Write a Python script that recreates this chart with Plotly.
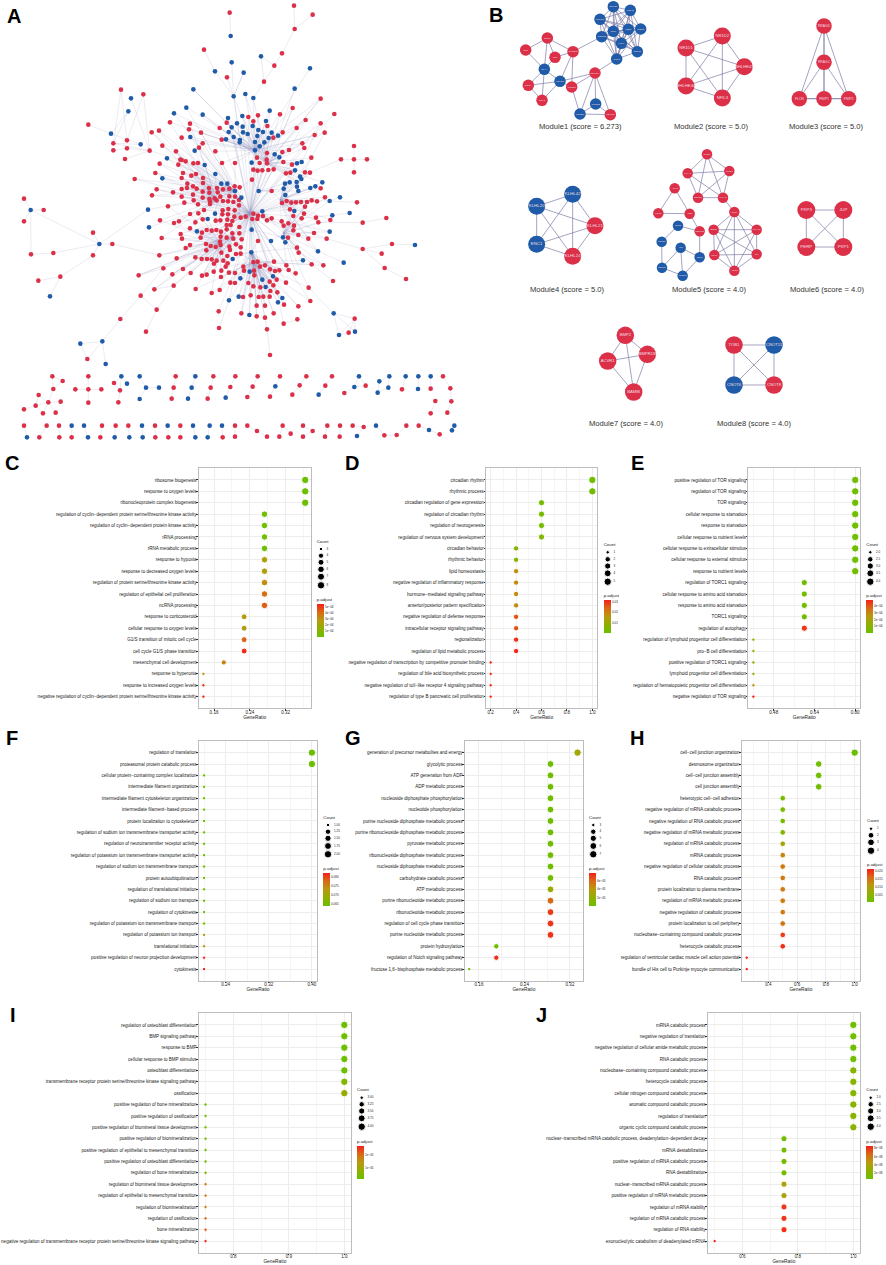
'''
Network panels (A, B) and GO enrichment dot plots (C to J) as one figure
'''
from itertools import combinations
import plotly.graph_objects as go

WIDTH = 886
HEIGHT = 1265
RED = '#DC3049'
BLUE = '#1F5BA8'
FONT = 'Liberation Sans'
M = '\u2212'

# Panel A, values in a 1440 x 1350 frame
A_CORE_RED = [
    (745, 351), (760, 364), (774, 346), (802, 378), (680, 368), (659, 384), (840, 343), (848, 397),
    (820, 413), (665, 419), (603, 398), (570, 371), (567, 388), (510, 367), (477, 392), (455, 397),
    (545, 413), (608, 430), (597, 443), (487, 437), (528, 454), (646, 454), (479, 491), (541, 479),
    (557, 484), (535, 494), (580, 490), (594, 489), (666, 489), (705, 489), (771, 473), (801, 459),
    (779, 489), (800, 479), (801, 490), (850, 486), (847, 456), (867, 450), (907, 430), (913, 444),
    (944, 405), (974, 398), (962, 370), (890, 384), (917, 360), (878, 324), (962, 296), (934, 473),
    (876, 494), (760, 509), (773, 512), (787, 511), (805, 510), (821, 508), (858, 520), (871, 518),
    (915, 517), (930, 518), (466, 519), (549, 519), (574, 527), (588, 522), (545, 534), (609, 534),
    (756, 539), (404, 537), (562, 551), (561, 564), (545, 567), (579, 559), (609, 549), (590, 566),
    (627, 564), (651, 564), (669, 568), (688, 566), (704, 559), (719, 562), (470, 568), (519, 577),
    (456, 586), (579, 584), (608, 575), (628, 578), (653, 577), (815, 573), (962, 565), (545, 590),
    (581, 601), (608, 593), (628, 597), (644, 595), (661, 590), (688, 589), (705, 590), (975, 592),
    (553, 608), (594, 613), (630, 604), (650, 601), (669, 603), (684, 604), (700, 606), (717, 600),
    (846, 609), (860, 603), (874, 608), (888, 607), (903, 606), (921, 606), (935, 601), (951, 604),
    (504, 619), (630, 612), (612, 630), (668, 631), (685, 627), (704, 631), (717, 616), (915, 620),
    (870, 628), (570, 642), (595, 640), (667, 643), (684, 643), (703, 650), (722, 653), (737, 650),
    (760, 641), (774, 647), (789, 648), (912, 641), (880, 648), (905, 655), (948, 653), (815, 655),
    (801, 661), (757, 657), (772, 657), (480, 661), (522, 669), (537, 664), (586, 667), (608, 658),
    (647, 662), (661, 661), (682, 659), (697, 663), (845, 664), (865, 670), (851, 677), (955, 667),
    (991, 660), (680, 675), (692, 675), (570, 685), (620, 690), (606, 698), (635, 692), (649, 690),
    (663, 695), (680, 688), (718, 681), (882, 677), (880, 691), (542, 702), (546, 716), (485, 714),
    (602, 713), (662, 710), (680, 713), (697, 700), (718, 700), (700, 716), (725, 718), (774, 723),
    (864, 713), (895, 705), (925, 716), (942, 699), (980, 716), (618, 732), (632, 738), (647, 741),
    (660, 725), (662, 735), (570, 735), (557, 744), (619, 751), (688, 740), (708, 733), (722, 742),
    (690, 750), (664, 758), (682, 768), (708, 762), (722, 761), (891, 743), (896, 758), (530, 775),
    (478, 766), (586, 772), (605, 777), (621, 777), (635, 778), (650, 782), (670, 782), (683, 790),
    (760, 786), (773, 785), (822, 785), (780, 800), (795, 796), (859, 796), (935, 793), (970, 796),
    (642, 791), (677, 800), (730, 800), (490, 805), (549, 807), (572, 819), (606, 827), (620, 824),
    (641, 815), (664, 812), (687, 818), (705, 819), (732, 812), (762, 812), (763, 826), (810, 808),
    (825, 813), (838, 811), (866, 810), (887, 820), (663, 831), (830, 839), (517, 823), (416, 826),
    (691, 848), (705, 849), (745, 849), (760, 859), (809, 845), (820, 856), (858, 848), (781, 862),
    (811, 873), (832, 877), (926, 863), (521, 857), (463, 868), (587, 867), (635, 879), (659, 870),
    (729, 891), (752, 886), (776, 891), (790, 890), (809, 890), (931, 903), (852, 914), (770, 917),
    (795, 917), (895, 919), (724, 940), (770, 949), (795, 953), (821, 940),
]
A_CORE_BLUE = [
    (684, 354), (727, 348), (711, 370), (695, 382), (728, 380), (686, 396), (729, 397), (743, 402),
    (758, 378), (775, 390), (789, 396), (798, 363), (815, 398), (834, 407), (806, 414), (772, 408),
    (765, 426), (793, 427), (779, 439), (765, 451), (719, 427), (701, 411), (678, 418), (824, 463),
    (838, 472), (736, 282), (760, 294), (701, 289), (580, 268), (559, 323), (522, 340), (608, 344),
    (809, 332), (571, 411), (584, 452), (501, 475), (614, 495), (646, 522), (487, 535), (755, 488),
    (891, 490), (905, 486), (885, 511), (904, 537), (890, 546), (869, 547), (855, 551), (851, 566),
    (856, 585), (895, 573), (931, 564), (946, 559), (967, 547), (989, 603), (664, 551), (682, 551),
    (705, 573), (776, 573), (724, 593), (787, 634), (645, 641), (623, 657), (755, 689), (591, 694),
    (813, 723), (849, 712), (856, 727), (754, 757), (698, 777), (749, 815), (721, 835), (787, 839),
    (819, 829), (797, 861), (716, 890), (687, 901), (847, 894), (834, 907), (748, 945), (909, 781),
    (954, 754), (989, 695), (883, 633),
]
A_HUBS = [
    (720, 640), (760, 641), (787, 634), (705, 573), (776, 573), (724, 593), (755, 689), (700, 710),
    (754, 757), (800, 490), (765, 451), (840, 600), (650, 600), (850, 700), (760, 786), (660, 730),
]
A_CENTRE = (750, 640)

# Chains of linked nodes outside the dense core: x, y, class
A_CHAINS = [
    [(689, 38, 'r'), (692, 108, 'b')],
    [(695, 187, 'b'), (701, 289, 'b')],
    [(612, 149, 'r'), (645, 214, 'b'), (701, 289, 'b')],
    [(681, 232, 'r'), (701, 289, 'b'), (731, 218, 'b'), (701, 289, 'b'), (720, 420, 'b')],
    [(882, 17, 'r'), (884, 87, 'r'), (846, 160, 'r'), (823, 197, 'r'), (783, 169, 'b'),
     (792, 245, 'r'), (760, 294, 'b')],
    [(823, 197, 'r'), (792, 245, 'r')],
    [(938, 44, 'r'), (884, 87, 'r')],
    [(930, 205, 'b'), (840, 343, 'r')],
    [(884, 266, 'b'), (834, 407, 'b')],
    [(962, 296, 'r'), (890, 384, 'r')],
    [(878, 324, 'r'), (848, 397, 'r')],
    [(1003, 342, 'r'), (944, 405, 'r')],
    [(917, 360, 'r'), (867, 450, 'r')],
    [(962, 370, 'r'), (905, 486, 'b')],
    [(974, 398, 'r'), (934, 473, 'r'), (891, 560, 'b')],
    [(363, 269, 'r'), (340, 430, 'r')],
    [(363, 269, 'r'), (381, 421, 'r')],
    [(393, 295, 'b'), (449, 452, 'r'), (430, 283, 'r'), (381, 421, 'r')],
    [(385, 334, 'b'), (340, 430, 'r')],
    [(385, 334, 'b'), (333, 401, 'b'), (265, 374, 'r')],
    [(333, 401, 'b'), (422, 433, 'b'), (340, 430, 'r'), (449, 452, 'r')],
    [(340, 451, 'r'), (381, 445, 'r'), (449, 452, 'r'), (375, 477, 'r')],
    [(449, 452, 'r'), (545, 480, 'r')],
    [(72, 596, 'r'), (92, 630, 'b'), (131, 630, 'r')],
    [(72, 664, 'r'), (92, 630, 'b'), (93, 763, 'r'), (160, 759, 'r'), (298, 732, 'b')],
    [(92, 630, 'b'), (298, 732, 'b'), (279, 698, 'r')],
    [(279, 766, 'r'), (298, 732, 'b'), (337, 732, 'r'), (478, 766, 'r')],
    [(298, 732, 'b'), (444, 629, 'b'), (553, 608, 'r')],
    [(115, 842, 'r'), (181, 830, 'r'), (279, 766, 'r')],
    [(150, 889, 'b'), (181, 830, 'r')],
    [(447, 682, 'b'), (570, 642, 'r')],
    [(241, 1031, 'b'), (307, 1024, 'b'), (361, 957, 'r'), (422, 887, 'r'), (490, 805, 'r')],
    [(262, 1077, 'r'), (241, 1031, 'b')],
    [(262, 1077, 'r'), (307, 1024, 'b'), (317, 1092, 'b')],
    [(438, 995, 'r'), (470, 929, 'r'), (521, 857, 'r')],
    [(422, 887, 'r'), (470, 929, 'r')],
    [(463, 868, 'r'), (521, 857, 'r')],
    [(416, 826, 'r'), (490, 805, 'r')],
    [(1062, 438, 'r'), (1062, 478, 'r'), (1062, 517, 'r')],
    [(900, 530, 'b'), (1023, 478, 'r'), (1062, 478, 'r'), (1101, 478, 'r')],
    [(1020, 592, 'b'), (989, 603, 'b'), (1071, 607, 'r')],
    [(1049, 639, 'b'), (997, 646, 'b'), (905, 655, 'r')],
    [(1159, 654, 'r'), (1088, 668, 'r'), (955, 667, 'r')],
    [(1245, 735, 'b'), (1176, 732, 'r'), (1088, 747, 'r'), (1145, 761, 'r')],
    [(1218, 837, 'r'), (1154, 804, 'r'), (1088, 747, 'r'), (980, 716, 'r')],
    [(1031, 788, 'b'), (954, 754, 'b'), (880, 691, 'r')],
    [(999, 843, 'r'), (935, 793, 'r'), (864, 713, 'r')],
    [(970, 796, 'r'), (896, 758, 'r')],
    [(1064, 956, 'r'), (1001, 940, 'b'), (1017, 1005, 'b'), (1046, 998, 'r'), (1064, 956, 'r')],
    [(1001, 940, 'b'), (1065, 995, 'b'), (1064, 956, 'r'), (1017, 1005, 'b')],
    [(1001, 940, 'b'), (926, 863, 'r')],
    [(810, 1065, 'r'), (801, 988, 'r'), (795, 953, 'r')],
    [(657, 984, 'r'), (687, 901, 'b')],
    [(656, 934, 'r'), (691, 848, 'r')],
    [(892, 958, 'r'), (851, 971, 'r'), (832, 877, 'r')],
    # Separate small components along the bottom
    [(157, 1129, 'r'), (188, 1143, 'r'), (160, 1167, 'r'), (157, 1129, 'r')],
    [(160, 1167, 'r'), (145, 1207, 'r'), (116, 1185, 'r'), (107, 1217, 'r'), (72, 1228, 'r')],
    [(182, 1205, 'r'), (145, 1207, 'r'), (129, 1240, 'r'), (107, 1217, 'r'), (145, 1207, 'r'),
     (167, 1238, 'r')],
    [(265, 1129, 'r'), (265, 1168, 'r'), (265, 1208, 'r')],
    [(226, 1168, 'r'), (265, 1168, 'r'), (304, 1168, 'r')],
    [(381, 1151, 'b'), (364, 1129, 'b'), (342, 1149, 'r'), (360, 1171, 'r'), (364, 1129, 'b')],
    [(360, 1171, 'r'), (355, 1207, 'r')],
    [(419, 1129, 'b'), (438, 1163, 'b'), (419, 1197, 'b')],
    [(438, 1163, 'b'), (477, 1163, 'b')],
    [(527, 1129, 'r'), (521, 1163, 'r'), (515, 1196, 'r')],
    [(586, 1129, 'b'), (575, 1163, 'b'), (564, 1196, 'b')],
    [(640, 1129, 'r'), (632, 1163, 'r'), (623, 1196, 'r')],
    [(706, 1129, 'r'), (691, 1161, 'r'), (677, 1193, 'b')],
    [(773, 1129, 'r'), (758, 1160, 'r'), (742, 1191, 'r')],
    [(840, 1129, 'r'), (826, 1159, 'b'), (810, 1190, 'r')],
    [(919, 1129, 'r'), (899, 1156, 'r'), (877, 1184, 'r')],
    [(996, 1129, 'r'), (976, 1157, 'r'), (956, 1184, 'b')],
    [(1033, 1179, 'r'), (1063, 1161, 'b'), (1077, 1129, 'b'), (1097, 1157, 'r'), (1063, 1161, 'b')],
    [(1138, 1144, 'b'), (1168, 1129, 'b'), (1165, 1163, 'b'), (1133, 1178, 'b'), (1138, 1144, 'b')],
    [(1217, 1129, 'b'), (1206, 1168, 'r')],
    [(1255, 1129, 'b'), (1254, 1167, 'b')],
    [(1292, 1129, 'b'), (1292, 1166, 'r')],
    [(1329, 1129, 'r'), (1351, 1165, 'r'), (1354, 1204, 'r'), (1342, 1238, 'r')],
    [(1306, 1203, 'r'), (1292, 1240, 'r')],
    [(72, 1277, 'r'), (81, 1312, 'b')],
    [(140, 1277, 'r'), (118, 1312, 'r')],
    [(177, 1277, 'r'), (178, 1312, 'r')],
    [(215, 1277, 'b'), (215, 1312, 'r')],
    [(252, 1277, 'b'), (264, 1312, 'b')],
    [(306, 1277, 'r'), (301, 1312, 'r')],
    [(347, 1277, 'r'), (344, 1312, 'b')],
    [(385, 1277, 'r'), (388, 1312, 'b')],
    [(426, 1277, 'b'), (428, 1312, 'b')],
    [(465, 1277, 'r'), (466, 1312, 'r')],
    [(503, 1277, 'b'), (505, 1312, 'r')],
    [(541, 1277, 'r'), (541, 1312, 'r')],
    [(579, 1277, 'b'), (586, 1312, 'b')],
    [(629, 1277, 'b'), (623, 1312, 'b')],
    [(666, 1277, 'b'), (668, 1312, 'r')],
    [(705, 1277, 'r'), (705, 1310, 'r')],
    [(742, 1277, 'r'), (771, 1293, 'r'), (801, 1310, 'r')],
    [(838, 1310, 'r'), (848, 1277, 'r'), (872, 1301, 'r')],
    [(909, 1277, 'r'), (938, 1293, 'r'), (909, 1310, 'r')],
    [(982, 1277, 'r'), (975, 1310, 'r')],
    [(1020, 1277, 'r'), (1019, 1310, 'r')],
    [(1058, 1277, 'r'), (1091, 1281, 'r'), (1071, 1308, 'b')],
    [(1128, 1277, 'b'), (1153, 1306, 'r'), (1190, 1305, 'r'), (1219, 1277, 'r')],
    [(1256, 1277, 'r'), (1287, 1290, 'b'), (1319, 1303, 'r')],
    [(1363, 1277, 'b'), (1356, 1291, 'b')],
]

# Panel B, values in a 1218 x 1320 frame
MODULES = [
    {'title': 'Module1 (score = 6.273)', 'at': (301, 379), 'size': 11.5, 'font': 2.4,
     'nodes': [(400, 20, 'SNX25', 'b'), (451, 31, 'UTP11', 'b'), (360, 58, 'UTP11L', 'b'),
               (482, 87, 'WDR3', 'b'), (400, 94, 'NIP7', 'b'), (445, 88, 'TBL3', 'b'),
               (365, 110, 'WDR12', 'b'), (424, 130, 'IMP4', 'b'), (472, 155, 'NOL11', 'b'),
               (410, 177, 'GNL3', 'b'), (202, 114, 'EGR1', 'r'), (137, 150, 'SP3', 'r'),
               (225, 172, 'JUN', 'r'), (279, 155, 'NFE2L2', 'r'), (193, 208, 'NFYA', 'b'),
               (240, 244, 'FOXO1', 'b'), (145, 256, 'RORA', 'r'), (186, 301, 'TBX3', 'r'),
               (275, 261, 'CCND1', 'r'), (345, 219, 'CDKN1A', 'r'), (347, 312, 'CCND2', 'b'),
               (300, 342, 'CCNE1', 'b'), (391, 344, 'CDKN3', 'r')],
     'cliques': [list(range(10))],
     'edges': [(13, 6), (9, 19), (10, 11), (10, 12), (10, 13), (11, 14), (12, 14), (12, 13),
               (13, 15), (10, 14), (14, 15), (14, 16), (14, 17), (16, 15), (16, 17), (17, 15),
               (15, 18), (15, 19), (18, 19), (18, 21), (19, 20), (19, 21), (19, 22), (20, 21),
               (21, 22), (20, 22), (13, 18)]},
    {'title': 'Module2 (score = 5.0)', 'at': (693, 379), 'size': 17, 'font': 4.2,
     'nodes': [(727, 108, 'NR1D2', 'r'), (618, 144, 'NR1D1', 'r'), (793, 200, 'BHLHE41', 'r'),
               (618, 258, 'BHLHE40', 'r'), (727, 294, 'NFIL3', 'r')],
     'cliques': [[0, 1, 2, 3, 4]], 'edges': []},
    {'title': 'Module3 (score = 5.0)', 'at': (1038, 379), 'size': 15.5, 'font': 3.4,
     'nodes': [(1032, 78, 'RRAGD', 'r'), (1032, 187, 'RRAGC', 'r'), (958, 296, 'FLCN', 'r'),
               (1032, 296, 'FNIP1', 'r'), (1106, 296, 'FNIP2', 'r')],
     'cliques': [[0, 1, 2, 3, 4]], 'edges': []},
    {'title': 'Module4 (score = 5.0)', 'at': (261, 867), 'size': 17, 'font': 4.4,
     'nodes': [(278, 583, 'KLHL42', 'b'), (170, 619, 'KLHL20', 'b'), (345, 677, 'KLHL21', 'r'),
               (170, 733, 'ENC1', 'b'), (278, 769, 'KLHL24', 'r')],
     'cliques': [[0, 1, 2, 3, 4]], 'edges': []},
    {'title': 'Module5 (score = 4.0)', 'at': (687, 867), 'size': 10.5, 'font': 2.2,
     'nodes': [(681, 463, 'PLOD1', 'r'), (623, 520, 'P4HA1', 'r'), (748, 513, 'PLOD2', 'r'),
               (654, 593, 'OGFOD', 'r'), (729, 593, 'P4HA2', 'r'), (584, 565, 'ARIH2', 'r'),
               (535, 640, 'UTRN', 'r'), (629, 641, 'ASB1', 'r'), (763, 636, 'ALDOA', 'r'),
               (701, 689, 'ENO2', 'r'), (830, 689, 'PGAM1', 'r'), (703, 765, 'PGK1', 'r'),
               (830, 763, 'GPI', 'r'), (763, 812, 'ALDOC', 'r'), (659, 694, 'HERPUD', 'r'),
               (594, 677, 'SMG5', 'b'), (545, 725, 'CDC25', 'b'), (546, 803, 'DSCC1', 'b'),
               (608, 827, 'CLSPN', 'b'), (602, 743, 'ATR', 'b'), (659, 772, 'CDC7', 'b')],
     'cliques': [[0, 1, 2, 3, 4], [5, 6, 7], [8, 9, 10, 11, 12, 13]],
     'edges': [(15, 14), (15, 16), (16, 17), (17, 19), (17, 18), (19, 18), (19, 20), (18, 20),
               (14, 20), (7, 14), (4, 8)]},
    {'title': 'Module6 (score = 4.0)', 'at': (1043, 867), 'size': 18, 'font': 4.4,
     'nodes': [(979, 630, 'PKP3', 'r'), (1090, 630, 'JUP', 'r'), (979, 741, 'PERP', 'r'),
               (1090, 741, 'PKP1', 'r')],
     'cliques': [[0, 1, 2, 3]], 'edges': []},
    {'title': 'Module7 (score = 4.0)', 'at': (439, 1270), 'size': 17.5, 'font': 4.2,
     'nodes': [(436, 1006, 'BMP2', 'r'), (502, 1063, 'BMPR1B', 'r'), (383, 1083, 'ACVR1', 'r'),
               (461, 1176, 'BAMBI', 'r')],
     'cliques': [[0, 1, 2, 3]], 'edges': []},
    {'title': 'Module8 (score = 4.0)', 'at': (822, 1270), 'size': 17.5, 'font': 4.2,
     'nodes': [(762, 1035, 'TOB1', 'r'), (882, 1035, 'CNOT11', 'b'), (762, 1155, 'CNOT6', 'b'),
               (882, 1155, 'CNOT8', 'r')],
     'cliques': [[0, 1, 2, 3]], 'edges': []},
]

# Panel C
C_TERMS = ['ribosome biogenesis', 'response to oxygen levels', 'ribonucleoprotein complex biogenesis',
           f'regulation of cyclin{M}dependent protein serine/threonine kinase activity',
           f'regulation of cyclin{M}dependent protein kinase activity', 'rRNA processing',
           'rRNA metabolic process', 'response to hypoxia', 'response to decreased oxygen levels',
           'regulation of protein serine/threonine kinase activity',
           'regulation of epithelial cell proliferation', 'ncRNA processing',
           'response to corticosteroid', 'cellular response to oxygen levels',
           'G1/S transition of mitotic cell cycle', 'cell cycle G1/S phase transition',
           'mesenchymal cell development', 'response to hyperoxia', 'response to increased oxygen levels',
           f'negative regulation of cyclin{M}dependent protein serine/threonine kinase activity']
C_COUNTS = [8, 8, 8, 6, 6, 6, 6, 6, 6, 6, 6, 6, 5, 5, 5, 5, 4, 3, 3, 3]
C_PADJ = [.1, .1, .15, .2, .2, .2, .2, 2.4, 2.4, 3.1, 3.9, 4.3, 2.6, 2.6, 4.2, 5.2, 3.3, 2.9, 5.0, 5.1]

# Panel D
D_TERMS = ['circadian rhythm', 'rhythmic process', 'circadian regulation of gene expression',
           'regulation of circadian rhythm', 'regulation of neurogenesis',
           'regulation of nervous system development', 'circadian behavior', 'rhythmic behavior',
           'lipid homeostasis', 'negative regulation of inflammatory response',
           f'hormone{M}mediated signaling pathway', 'anterior/posterior pattern specification',
           'negative regulation of defense response', 'intracellular receptor signaling pathway',
           'regionalization', 'regulation of lipid metabolic process',
           'negative regulation of transcription by competitive promoter binding',
           'regulation of bile acid biosynthetic process',
           f'negative regulation of toll{M}like receptor 4 signaling pathway',
           'regulation of type B pancreatic cell proliferation']
D_COUNTS = [5, 5, 3, 3, 3, 3, 2, 2, 2, 2, 2, 2, 2, 2, 2, 2, 1, 1, 1, 1]
D_PADJ = [.001, .001, .002, .002, .002, .005, .005, .006, .018, .018, .018, .018, .026, .026, .03, .031,
          .031, .031, .031, .031]

# Panel E
E_TERMS = ['positive regulation of TOR signaling', 'regulation of TOR signaling', 'TOR signaling',
           'cellular response to starvation', 'response to starvation',
           'cellular response to nutrient levels', 'cellular response to extracellular stimulus',
           'cellular response to external stimulus', 'response to nutrient levels',
           'regulation of TORC1 signaling', 'cellular response to amino acid starvation',
           'response to amino acid starvation', 'TORC1 signaling', 'regulation of autophagy',
           'regulation of lymphoid progenitor cell differentiation', f'pro{M}B cell differentiation',
           'positive regulation of TORC1 signaling', 'lymphoid progenitor cell differentiation',
           'regulation of hematopoietic progenitor cell differentiation',
           'negative regulation of TOR signaling']
E_COUNTS = [4, 4, 4, 4, 4, 4, 4, 4, 4, 3, 3, 3, 3, 3, 2, 2, 2, 2, 2, 2]
E_PADJ = [.1, .1, .1, .1, .1, .1, .1, .1, .2, .2, .2, .2, .2, 4.4, .9, .9, 1.4, 1.5, 2.7, 4.7]

# Panel F
F_TERMS = ['regulation of translation', 'proteasomal protein catabolic process',
           f'cellular protein{M}containing complex localization', 'intermediate filament organization',
           'intermediate filament cytoskeleton organization', f'intermediate filament{M}based process',
           'protein localization to cytoskeleton',
           'regulation of sodium ion transmembrane transporter activity',
           'regulation of neurotransmitter receptor activity',
           'regulation of potassium ion transmembrane transporter activity',
           'regulation of sodium ion transmembrane transport', 'protein autoubiquitination',
           'regulation of translational initiation', 'regulation of sodium ion transport',
           'regulation of cytokinesis', 'regulation of potassium ion transmembrane transport',
           'regulation of potassium ion transport', 'translational initiation',
           'positive regulation of neuron projection development', 'cytokinesis']
F_COUNTS = [2, 2, 1, 1, 1, 1, 1, 1, 1, 1, 1, 1, 1, 1, 1, 1, 1, 1, 1, 1]
F_PADJ = [.0641, .0641, .0645, .0645, .0645, .0645, .0645, .0645, .0645, .0645, .0645, .0645, .0645, .0645,
          .0645, .0645, .073, .074, .082, .082]

# Panel G
G_TERMS = ['generation of precursor metabolites and energy', 'glycolytic process',
           'ATP generation from ADP', 'ADP metabolic process', 'nucleoside diphosphate phosphorylation',
           'nucleotide phosphorylation', 'purine nucleoside diphosphate metabolic process',
           'purine ribonucleoside diphosphate metabolic process', 'pyruvate metabolic process',
           'ribonucleoside diphosphate metabolic process', 'nucleoside diphosphate metabolic process',
           'carbohydrate catabolic process', 'ATP metabolic process',
           'purine ribonucleotide metabolic process', 'ribonucleotide metabolic process',
           'regulation of cell cycle phase transition', 'purine nucleotide metabolic process',
           'protein hydroxylation', 'regulation of Notch signaling pathway',
           f'fructose 1,6{M}bisphosphate metabolic process']
G_COUNTS = [7, 6, 6, 6, 6, 6, 6, 6, 6, 6, 6, 6, 6, 6, 6, 6, 6, 4, 4, 3]
G_PADJ = [2.9, .3, .3, .3, .3, .3, .3, .3, .3, .3, .3, .3, 2.5, 5.9, 7.0, 7.2, 7.3, .1, 7.3, .2]

# Panel H
H_TERMS = [f'cell{M}cell junction organization', 'desmosome organization',
           f'cell{M}cell junction assembly', 'cell junction assembly', f'heterotypic cell{M}cell adhesion',
           'negative regulation of mRNA catabolic process', 'negative regulation of RNA catabolic process',
           'negative regulation of mRNA metabolic process', 'regulation of mRNA catabolic process',
           'mRNA catabolic process', 'negative regulation of cellular catabolic process',
           'RNA catabolic process', 'protein localization to plasma membrane',
           'regulation of mRNA metabolic process', 'negative regulation of catabolic process',
           'protein localization to cell periphery', f'nucleobase{M}containing compound catabolic process',
           'heterocycle catabolic process', 'regulation of ventricular cardiac muscle cell action potential',
           'bundle of His cell to Purkinje myocyte communication']
H_COUNTS = [4, 3, 3, 3, 2, 2, 2, 2, 2, 2, 2, 2, 2, 2, 2, 2, 2, 2, 1, 1]
H_PADJ = [.0003, .001, .001, .001, .002, .002, .002, .004, .008, .013, .014, .014, .014, .014, .014, .015,
          .019, .020, .021, .021]

# Panel I
I_TERMS = ['regulation of osteoblast differentiation', 'BMP signaling pathway', 'response to BMP',
           'cellular response to BMP stimulus', 'osteoblast differentiation',
           'transmembrane receptor protein serine/threonine kinase signaling pathway', 'ossification',
           'positive regulation of bone mineralization', 'positive regulation of ossification',
           'positive regulation of biomineral tissue development', 'positive regulation of biomineralization',
           'positive regulation of epithelial to mesenchymal transition',
           'positive regulation of osteoblast differentiation', 'regulation of bone mineralization',
           'regulation of biomineral tissue development', 'regulation of epithelial to mesenchymal transition',
           'regulation of biomineralization', 'regulation of ossification', 'bone mineralization',
           'negative regulation of transmembrane receptor protein serine/threonine kinase signaling pathway']
I_COUNTS = [4, 4, 4, 4, 4, 4, 4, 3, 3, 3, 3, 3, 3, 3, 3, 3, 3, 3, 3, 3]
I_PADJ = [.1, .1, .1, .1, .1, .5, .9, .2, .2, .2, .2, .2, .3, .4, 1.8, 1.9, 2.0, 2.2, 2.3, 2.8]

# Panel J
J_TERMS = ['mRNA catabolic process', 'negative regulation of translation',
           'negative regulation of cellular amide metabolic process', 'RNA catabolic process',
           f'nucleobase{M}containing compound catabolic process', 'heterocycle catabolic process',
           'cellular nitrogen compound catabolic process', 'aromatic compound catabolic process',
           'regulation of translation', 'organic cyclic compound catabolic process',
           f'nuclear{M}transcribed mRNA catabolic process, deadenylation{M}dependent decay',
           'mRNA destabilization', 'positive regulation of mRNA catabolic process', 'RNA destabilization',
           f'nuclear{M}transcribed mRNA catabolic process', 'positive regulation of mRNA metabolic process',
           'regulation of mRNA stability', 'regulation of mRNA catabolic process',
           'regulation of RNA stability', 'exonucleolytic catabolism of deadenylated mRNA']
J_COUNTS = [4, 4, 4, 4, 4, 4, 4, 4, 4, 4, 3, 3, 3, 3, 3, 3, 3, 3, 3, 2]
J_PADJ = [1, 1, 1, 1, 2.2, 2.2, 2.2, 2.4, 2.4, 2.4, 1.1, 1.1, 1.1, 1.2, 3.9, 4, 7.9, 8, 8.2, 8.5]

# Box in pixels, axis settings and legend placement for each dot plot
PANELS = [
    dict(terms=C_TERMS, counts=C_COUNTS, padj=C_PADJ, total=22, box=(198.7, 468.3, 310.7, 708.3),
         xrange=(.1258, .3759), tick0=.16, dtick=.08, fmt='.2f',
         cnt_vals=[3, 4, 5, 6, 7, 8], cnt_fmt='{:.0f}', left=316.7, cnt_title=541.7, dot_x=321, lab_x=326.5,
         dot_y=[549, 555.7, 562.3, 569.3, 576.7, 585.3], pad_title=600, bar_top=604,
         pad_range=(.1, 5.4), pad_ticks=[5, 4, 3, 2, 1],
         pad_text=['5e' + M + '04', '4e' + M + '04', '3e' + M + '04', '2e' + M + '04', '1e' + M + '04']),
    dict(terms=D_TERMS, counts=D_COUNTS, padj=D_PADJ, total=5, box=(486, 468.3, 597.3, 708.3),
         xrange=(.163, 1.039), tick0=.2, dtick=.2, fmt='.1f',
         cnt_vals=[1, 2, 3, 4, 5], cnt_fmt='{:.0f}', left=603.7, cnt_title=545.3, dot_x=607.7, lab_x=613.5,
         dot_y=[552.3, 559.3, 566, 573.3, 581.7], pad_title=596.3, bar_top=600.3,
         pad_range=(0, .0316), pad_ticks=[.03, .02, .01], pad_text=['0.03', '0.02', '0.01']),
    dict(terms=E_TERMS, counts=E_COUNTS, padj=E_PADJ, total=5, box=(748.3, 468.3, 860.3, 708.3),
         xrange=(.38, .82), tick0=.48, dtick=.16, fmt='.2f',
         cnt_vals=[2, 2.5, 3, 3.5, 4], cnt_fmt='{:.1f}', left=866.3, cnt_title=545.3, dot_x=870.3, lab_x=876,
         dot_y=[552.3, 559.3, 566, 573.3, 581.7], pad_title=596.3, bar_top=600.3,
         pad_range=(0, 4.77), pad_ticks=[4, 3, 2, 1],
         pad_text=['4e' + M + '04', '3e' + M + '04', '2e' + M + '04', '1e' + M + '04']),
    dict(terms=F_TERMS, counts=F_COUNTS, padj=F_PADJ, total=5, box=(198.7, 741, 317.3, 980.7),
         xrange=(.19, .41), tick0=.24, dtick=.08, fmt='.2f',
         cnt_vals=[1, 1.25, 1.5, 1.75, 2], cnt_fmt='{:.2f}', left=323.3, cnt_title=817.7, dot_x=328, lab_x=334,
         dot_y=[825, 831.7, 838.3, 846, 854.3], pad_title=868.7, bar_top=873,
         pad_range=(.0641, .0822), pad_ticks=[.08, .075, .07, .065], pad_text=['0.080', '0.075', '0.070', '0.065']),
    dict(terms=G_TERMS, counts=G_COUNTS, padj=G_PADJ, total=21, box=(464.7, 741, 583, 980.7),
         xrange=(.1349, .3429), tick0=.16, dtick=.08, fmt='.2f',
         cnt_vals=[3, 4, 5, 6, 7], cnt_fmt='{:.0f}', left=589, cnt_title=817.7, dot_x=593.3, lab_x=599.5,
         dot_y=[825, 831.7, 838.3, 846, 854.3], pad_title=868.7, bar_top=873,
         pad_range=(.1, 7.76), pad_ticks=[6, 4, 2], pad_text=['6e' + M + '05', '4e' + M + '05', '2e' + M + '05']),
    dict(terms=H_TERMS, counts=H_COUNTS, padj=H_PADJ, total=4, box=(741.7, 741, 860, 980.7),
         xrange=(.215, 1.037), tick0=.4, dtick=.2, fmt='.1f',
         cnt_vals=[1, 2, 3, 4], cnt_fmt='{:.0f}', left=867, cnt_title=821.3, dot_x=871, lab_x=877,
         dot_y=[828.7, 835.3, 842.3, 850.7], pad_title=865, bar_top=869.3,
         pad_range=(.0003, .021), pad_ticks=[.02, .015, .01, .005], pad_text=['0.020', '0.015', '0.010', '0.005']),
    dict(terms=I_TERMS, counts=I_COUNTS, padj=I_PADJ, total=4, box=(198.7, 1013.3, 351, 1252.7),
         xrange=(.7377, 1.012), tick0=.8, dtick=.1, fmt='.1f',
         cnt_vals=[3, 3.25, 3.5, 3.75, 4], cnt_fmt='{:.2f}', left=357, cnt_title=1090.3, dot_x=361.7, lab_x=367.5,
         dot_y=[1097.7, 1104.3, 1111, 1118.3, 1126.7], pad_title=1141.7, bar_top=1145.7,
         pad_range=(.083, 2.8), pad_ticks=[2, 1], pad_text=['2e' + M + '05', '1e' + M + '05']),
    dict(terms=J_TERMS, counts=J_COUNTS, padj=J_PADJ, total=4, box=(707.7, 1013.3, 860, 1252.7),
         xrange=(.475, 1.024), tick0=.6, dtick=.2, fmt='.1f',
         cnt_vals=[2, 2.5, 3, 3.5, 4], cnt_fmt='{:.1f}', left=866.3, cnt_title=1090.3, dot_x=870.7, lab_x=876.5,
         dot_y=[1097.7, 1104.3, 1111, 1118.3, 1126.7], pad_title=1141.7, bar_top=1145.7,
         pad_range=(.72, 8.56), pad_ticks=[8, 6, 4, 2],
         pad_text=['8e' + M + '08', '6e' + M + '08', '4e' + M + '08', '2e' + M + '08']),
]

LETTERS = {'A': (14, 16), 'B': (496, 15), 'C': (12, 463), 'D': (352, 463), 'E': (637, 463),
           'F': (12, 738), 'G': (353, 738), 'H': (637, 738), 'I': (13, 1015), 'J': (541, 1015)}

GRADIENT = [[0, '#6cbf00'], [.25, '#8fb000'], [.5, '#b89a10'], [.75, '#d86a15'], [1, '#f5201a']]


def dot_size(count, low, high):
    '''ggplot style area scale for the dots, in pixels'''
    return 3.4 + 4.0 * ((count - low) / (high - low)) ** .5


def segments(pairs):
    '''Turn point pairs into x and y lists with gaps for one line trace'''
    xs, ys = [], []
    for p, q in pairs:
        xs += [p[0], q[0], None]
        ys += [p[1], q[1], None]
    return xs, ys


fig = go.Figure()
layout_axes = {}

# Frame for text and legends, in page pixels
layout_axes['xaxis20'] = dict(domain=[0, 1], range=[0, WIDTH], visible=False, anchor='y20')
layout_axes['yaxis20'] = dict(domain=[0, 1], range=[HEIGHT, 0], visible=False, anchor='x20')

# Panel A
layout_axes['xaxis21'] = dict(domain=[0, 480 / WIDTH], range=[0, 1440], visible=False, anchor='y21')
layout_axes['yaxis21'] = dict(domain=[1 - 450 / HEIGHT, 1], range=[1350, 0], visible=False, anchor='x21')

red_nodes = set(A_CORE_RED)
blue_nodes = set(A_CORE_BLUE)
a_pairs = []
for chain in A_CHAINS:
    for node in chain:
        (red_nodes if node[2] == 'r' else blue_nodes).add(node[:2])
    a_pairs += list(zip(chain[:-1], chain[1:]))

# The dense core is drawn as links to the nearest busy nodes
for i, node in enumerate(A_CORE_RED + A_CORE_BLUE):
    hubs = sorted(A_HUBS, key=lambda h: (h[0] - node[0]) ** 2 + (h[1] - node[1]) ** 2)
    a_pairs.append((node, hubs[0]))
    a_pairs.append((node, hubs[1] if i % 3 else A_CENTRE))

edge_x, edge_y = segments(a_pairs)
fig.add_trace(go.Scatter(x=edge_x, y=edge_y, mode='lines', xaxis='x21', yaxis='y21',
                         line=dict(color='rgba(150,150,190,0.32)', width=0.6), hoverinfo='skip'))
for nodes, colour in ((red_nodes, RED), (blue_nodes, BLUE)):
    nodes = sorted(nodes)
    fig.add_trace(go.Scatter(x=[n[0] for n in nodes], y=[n[1] for n in nodes], mode='markers',
                             xaxis='x21', yaxis='y21', marker=dict(size=4.6, color=colour)))

# Panel B
layout_axes['xaxis22'] = dict(domain=[480 / WIDTH, 1], range=[0, 1218], visible=False, anchor='y22')
layout_axes['yaxis22'] = dict(domain=[1 - 440 / HEIGHT, 1], range=[1320, 0], visible=False, anchor='x22')

for module in MODULES:
    pts = module['nodes']
    index_pairs = list(module['edges'])
    for group in module['cliques']:
        index_pairs += list(combinations(group, 2))
    edge_x, edge_y = segments([(pts[a], pts[b]) for a, b in index_pairs])
    fig.add_trace(go.Scatter(x=edge_x, y=edge_y, mode='lines', xaxis='x22', yaxis='y22',
                             line=dict(color='#7d7da6', width=0.7), hoverinfo='skip'))
    fig.add_trace(go.Scatter(x=[p[0] for p in pts], y=[p[1] for p in pts], mode='markers+text',
                             xaxis='x22', yaxis='y22', text=[p[2] for p in pts],
                             textposition='middle center',
                             textfont=dict(family=FONT, size=module['font'], color='#f4dfe2'),
                             marker=dict(size=module['size'],
                                         color=[RED if p[3] == 'r' else BLUE for p in pts])))
    fig.add_annotation(x=module['at'][0], y=module['at'][1], xref='x22', yref='y22',
                       text=module['title'], showarrow=False,
                       font=dict(family=FONT, size=7.6, color='#333333'))

# Panels C to J
for n, panel in enumerate(PANELS):
    x0, y0, x1, y1 = panel['box']
    name = str(n + 2)
    rows = len(panel['terms'])
    low, high = min(panel['cnt_vals']), max(panel['cnt_vals'])
    ratio = [c / panel['total'] for c in panel['counts']]
    fig.add_trace(go.Scatter(
        x=ratio, y=panel['terms'], mode='markers', xaxis='x' + name, yaxis='y' + name,
        marker=dict(size=[dot_size(c, low, high) for c in panel['counts']], opacity=1,
                    color=panel['padj'], colorscale=GRADIENT,
                    cmin=panel['pad_range'][0], cmax=panel['pad_range'][1],
                    colorbar=dict(x=panel['left'] / WIDTH, xanchor='left', y=1 - panel['bar_top'] / HEIGHT,
                                  yanchor='top', len=33, lenmode='pixels', thickness=6.6,
                                  thicknessmode='pixels', xpad=0, ypad=0, outlinewidth=0, ticks='',
                                  tickvals=panel['pad_ticks'], ticktext=panel['pad_text'],
                                  tickfont=dict(family=FONT, size=3, color='#222222')))))
    layout_axes['xaxis' + name] = dict(
        domain=[x0 / WIDTH, x1 / WIDTH], range=list(panel['xrange']), anchor='y' + name,
        tick0=panel['tick0'], dtick=panel['dtick'], tickformat=panel['fmt'],
        showline=True, mirror=True, linecolor='#bdbdbd', linewidth=1.2,
        ticks='outside', ticklen=1.2, tickwidth=0.4, tickcolor='#333333', ticklabelstandoff=-2,
        gridcolor='#ededed', gridwidth=0.5, zeroline=False,
        minor=dict(dtick=panel['dtick'] / 2, tick0=panel['tick0'], showgrid=True,
                   gridcolor='#f5f5f5', gridwidth=0.4),
        tickfont=dict(family=FONT, size=4.55, color='#1a1a1a'),
        title=dict(text='GeneRatio', standoff=0, font=dict(family=FONT, size=4.8, color='#1a1a1a')))
    layout_axes['yaxis' + name] = dict(
        domain=[1 - y1 / HEIGHT, 1 - y0 / HEIGHT], anchor='x' + name, type='category',
        categoryorder='array', categoryarray=panel['terms'], range=[rows - 1 + 1.02, -1.02],
        showline=True, mirror=True, linecolor='#bdbdbd', linewidth=1.2,
        ticks='outside', ticklen=1.2, tickwidth=0.4, tickcolor='#333333', ticklabelstandoff=-1,
        gridcolor='#ededed', gridwidth=0.5, zeroline=False,
        tickfont=dict(family=FONT, size=4.55, color='#1a1a1a'))

    # Count legend
    dots = [dot_size(v, low, high) for v in panel['cnt_vals']]
    fig.add_trace(go.Scatter(x=[panel['dot_x']] * len(dots), y=panel['dot_y'], mode='markers',
                             xaxis='x20', yaxis='y20', marker=dict(size=dots, color='black', opacity=1)))
    fig.add_trace(go.Scatter(x=[panel['lab_x']] * len(dots), y=panel['dot_y'], mode='text',
                             xaxis='x20', yaxis='y20', textposition='middle right',
                             text=[panel['cnt_fmt'].format(v) for v in panel['cnt_vals']],
                             textfont=dict(family=FONT, size=3, color='#222222')))
    fig.add_trace(go.Scatter(x=[panel['left']] * 2, y=[panel['cnt_title'], panel['pad_title']],
                             mode='text', xaxis='x20', yaxis='y20', textposition='middle right',
                             text=['Count', 'p.adjust'],
                             textfont=dict(family=FONT, size=4.4, color='#222222')))

for letter, (lx, ly) in LETTERS.items():
    fig.add_annotation(x=lx, y=ly, xref='x20', yref='y20', text=f'<b>{letter}</b>', showarrow=False,
                       font=dict(family=FONT, size=20, color='black'))

fig.update_layout(width=WIDTH, height=HEIGHT, autosize=False, showlegend=False,
                  margin=dict(l=0, r=0, t=0, b=0, pad=0), paper_bgcolor='white',
                  plot_bgcolor='rgba(0,0,0,0)', **layout_axes)

# The page's default body margin would push the figure out of the window
fig.write_html("out.html", config={'displayModeBar': False},
               post_script="document.body.style.margin = '0';")
